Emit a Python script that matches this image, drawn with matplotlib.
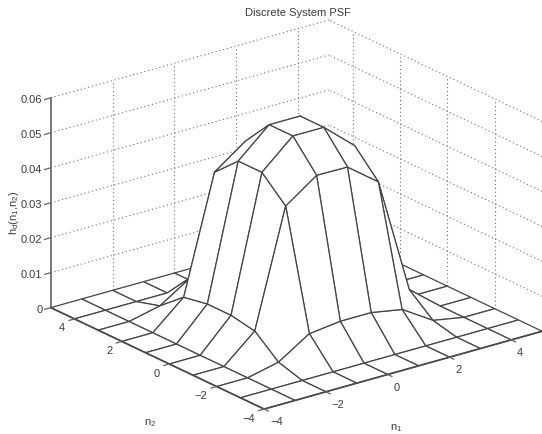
import numpy as np
import matplotlib
matplotlib.use('Agg')
import matplotlib.pyplot as plt
from mpl_toolkits.mplot3d import proj3d

plt.rcParams['font.family'] = ['Liberation Sans', 'DejaVu Sans']
plt.rcParams['mathtext.default'] = 'regular'

# PSF samples
n1 = [-4, -3, -2, -1, 0, 1, 2, 3, 4, 5]
n2 = [-4, -3, -2, -1, 0, 1, 2, 3, 4, 5]
psf = [
    [0, 0, 0, 0, 0, 0, 0, 0, 0, 0],
    [0, 0, 0, 0, 0, 0, 0, 0, 0, 0],
    [0, 0, 0.0020, 0.0077, 0.0090, 0.0090, 0.0077, 0.0020, 0, 0],
    [0, 0, 0.0077, 0.0410, 0.0474, 0.0474, 0.0410, 0.0077, 0, 0],
    [0, 0, 0.0088, 0.0473, 0.0553, 0.0553, 0.0474, 0.0090, 0, 0],
    [0, 0, 0.0088, 0.0472, 0.0553, 0.0553, 0.0474, 0.0090, 0, 0],
    [0, 0, 0.0072, 0.0405, 0.0476, 0.0474, 0.0410, 0.0077, 0, 0],
    [0, 0, 0.0016, 0.0072, 0.0088, 0.0090, 0.0077, 0.0020, 0, 0],
    [0, 0, 0, 0, 0, 0, 0, 0, 0, 0],
    [0, 0, 0, 0, 0, 0, 0, 0, 0, 0],
]
xticks = [-4, -2, 0, 2, 4]
yticks = [-4, -2, 0, 2, 4]
zticks = [0, 0.01, 0.02, 0.03, 0.04, 0.05, 0.06]
ztick_labels = ['0', '0.01', '0.02', '0.03', '0.04', '0.05', '0.06']

fig = plt.figure(figsize=(5.42, 4.34), dpi=100)
# 3d axes are forced square, so make them bigger than the figure to avoid clipping
ax = fig.add_axes([(287 - 350) / 542, (210 - 350) / 434, 700 / 542, 700 / 434],
                  projection='3d', proj_type='ortho')
ax.computed_zorder = False
ax.view_init(elev=21.4, azim=-127.5)
ax.set_xlim(n1[0], n1[-1], view_margin=0)
ax.set_ylim(n2[0], n2[-1], view_margin=0)
ax.set_zlim(zticks[0], zticks[-1], view_margin=0)
ax.set_box_aspect((1, 1, 0.643), zoom=0.755)
ax.set_axis_off()

xmin, xmax = n1[0], n1[-1]
ymin, ymax = n2[0], n2[-1]
zmin, zmax = zticks[0], zticks[-1]
ink = '#454545'
grid = dict(color='#707070', linestyle=(0, (1, 2.5)), linewidth=0.8, zorder=1)


def label3d(x, y, z, s, **kw):
    # project by hand so the text is an ordinary 2d text
    px, py, _ = proj3d.proj_transform(x, y, z, ax.get_proj())
    ax.text2D(px, py, s, transform=ax.transData, fontsize=8, color='#3c3c3c',
              va='center', clip_on=False, **kw)


# dotted grid on the two back walls
for x in xticks[1:]:
    ax.plot([x, x], [ymax, ymax], [zmin, zmax], **grid)
for y in yticks:
    ax.plot([xmax, xmax], [y, y], [zmin, zmax], **grid)
for z in zticks[1:]:
    ax.plot([xmin, xmax], [ymax, ymax], [z, z], **grid)
    ax.plot([xmax, xmax], [ymin, ymax], [z, z], **grid)

X, Y = np.meshgrid(n1, n2, indexing='ij')
Z = np.array(psf)
ax.plot_surface(X, Y, Z, rstride=1, cstride=1, color='white', edgecolor=ink,
                linewidth=0.9, shade=False, antialiased=True, zorder=2)

# front axis lines and ticks
axis_style = dict(color='#4a4a4a', linewidth=1.2, zorder=3)
ax.plot([xmin, xmin], [ymax, ymax], [zmin, zmax], color='#777777', linewidth=1.4, zorder=3)
ax.plot([xmin, xmax], [ymin, ymin], [zmin, zmin], **axis_style)
ax.plot([xmin, xmin], [ymin, ymax], [zmin, zmin], **axis_style)

tick_style = dict(color='#666666', linewidth=0.9, zorder=3)
for x in xticks:
    ax.plot([x, x], [ymin, ymin - 0.18], [zmin, zmin], **tick_style)
    label3d(x, ymin - 0.25, zmin - 0.003, str(x).replace('-', '\u2212'), ha='left')
for y in yticks:
    ax.plot([xmin, xmin - 0.18], [y, y], [zmin, zmin], **tick_style)
    label3d(xmin - 0.3, y, zmin - 0.002, str(y).replace('-', '\u2212'), ha='right')
for z, label in zip(zticks, ztick_labels):
    ax.plot([xmin, xmin - 0.2], [ymax, ymax], [z, z], **tick_style)
    label3d(xmin - 0.27, ymax, z, label, ha='right')

text_style = dict(fontsize=8, color='#3c3c3c', ha='center', va='center')
fig.text(298 / 542, 1 - 13 / 434, 'Discrete System PSF', **text_style)
fig.text(14 / 542, 1 - 213 / 434, r'$h_d(n_1{,}n_2)$', rotation=90, **text_style)
fig.text(150 / 542, 1 - 423 / 434, r'$n_2$', **text_style)
fig.text(396 / 542, 1 - 428 / 434, r'$n_1$', **text_style)

fig.savefig('out.png', dpi=100)
